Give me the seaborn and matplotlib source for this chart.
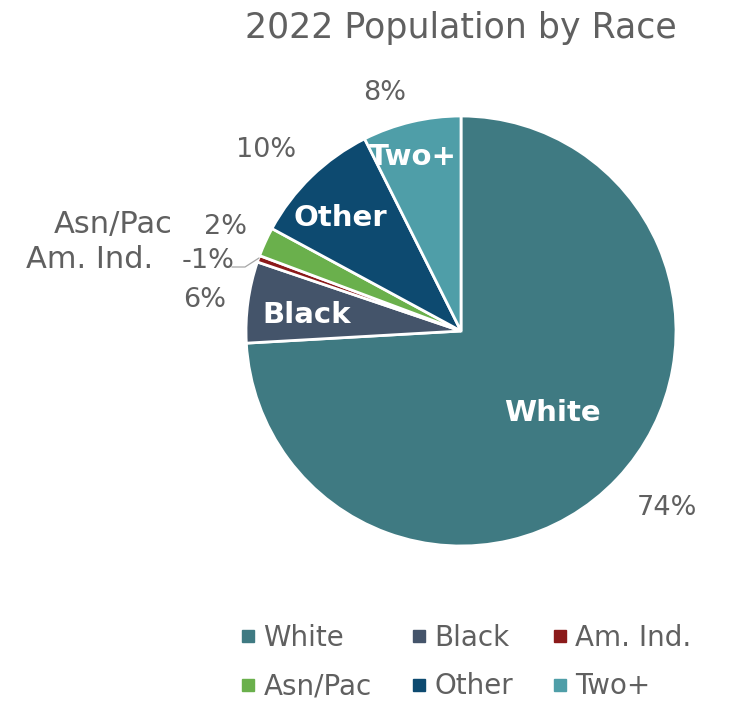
import numpy as np
import matplotlib
matplotlib.use("Agg")
import matplotlib.pyplot as plt
from matplotlib.lines import Line2D
import seaborn as sns

# data
races = ["White", "Black", "Am. Ind.", "Asn/Pac", "Other", "Two+"]
shares = [74.1, 6.1, 0.5, 2.2, 9.7, 7.4]
pct_labels = ["74%", "6%", "-1%", "2%", "10%", "8%"]
colors = ["#3f7a82", "#44546a", "#8b1a1a", "#6ab04c", "#0d4a70", "#4f9ea8"]

sns.set_theme(style="white")
plt.rcParams["font.family"] = ["DejaVu Sans"]

W, H = 743, 702
CX, CY, R = 461, 331, 215

fig = plt.figure(figsize=(W / 100, H / 100), dpi=100)
ax = fig.add_axes([(CX - R) / W, (H - CY - R) / H, 2 * R / W, 2 * R / H])

wedges, _ = ax.pie(shares, startangle=90, counterclock=False, colors=colors,
                   radius=1, wedgeprops=dict(edgecolor="white", linewidth=2))
ax.set_xlim(-1, 1)
ax.set_ylim(-1, 1)
ax.set_aspect("equal")
ax.axis("off")


def px(x, y):
    # pixel position -> data coords of the pie axes
    return (x - CX) / R, (CY - y) / R


grey = "#606060"

# outside percentages
pct_pos = [(667, 508), (205, 300), (208, 261), (226, 227), (266, 150), (385, 93)]
for lab, (x, y) in zip(pct_labels, pct_pos):
    ax.text(*px(x, y), lab, ha="center", va="center", fontsize=19.5, color=grey)

# names for the thin slices
ax.text(*px(113, 224), "Asn/Pac", ha="center", va="center", fontsize=22, color=grey)
ax.text(*px(90, 260), "Am. Ind.", ha="center", va="center", fontsize=22, color=grey)

# leader line for Am. Ind.
lx, ly = zip(px(232, 267), px(245, 267), px(259, 258))
ax.plot(lx, ly, color="#a6a6a6", lw=0.9, clip_on=False)

# names inside the big slices
inner = {"White": (552, 413), "Black": (307, 315), "Other": (340, 218), "Two+": (413, 157)}
for lab, (x, y) in inner.items():
    ax.text(*px(x, y), lab, ha="center", va="center", fontsize=21,
            fontweight="bold", color="white")

fig.text(461 / W, 1 - 28 / H, "2022 Population by Race", ha="center", va="center",
         fontsize=25, color=grey)

# legend filled row by row
order = [0, 3, 1, 4, 2, 5]
handles = [Line2D([], [], marker="s", ls="", markersize=8, color=colors[i]) for i in order]
fig.legend(handles, [races[i] for i in order], ncol=3, loc="center",
           bbox_to_anchor=(465 / W, 1 - 662 / H), frameon=False, fontsize=20,
           handletextpad=0.2, columnspacing=1.35, labelspacing=0.75,
           labelcolor=grey, handlelength=0.7)

fig.savefig("out.png", dpi=100)
